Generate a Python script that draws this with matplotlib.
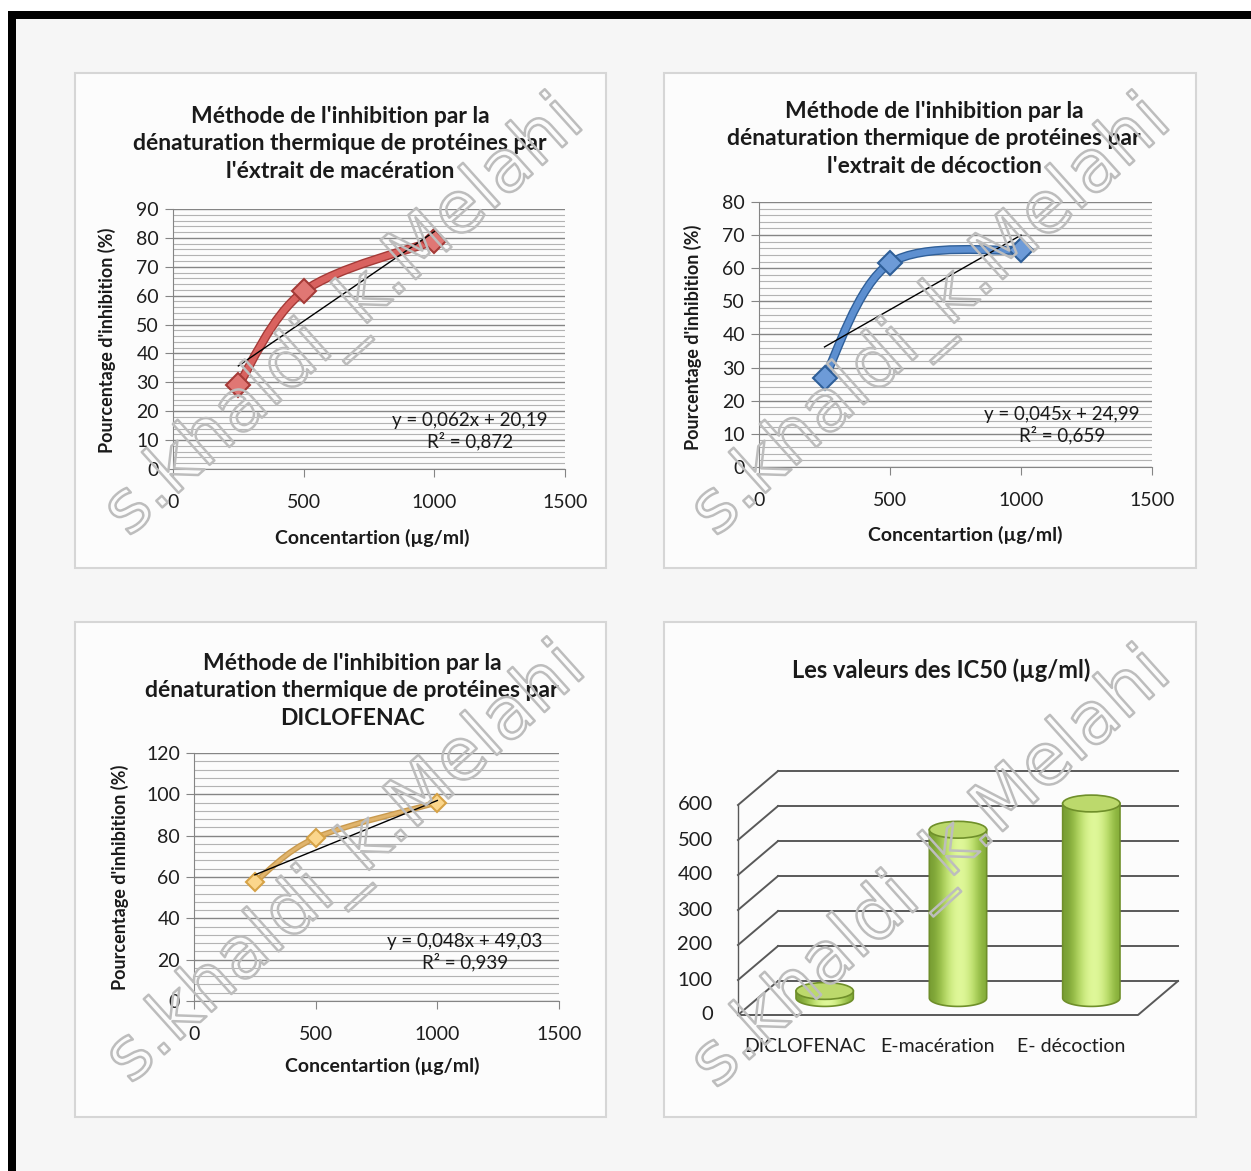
import numpy as np
import matplotlib
matplotlib.use("Agg")
import matplotlib.pyplot as plt
from matplotlib.path import Path
from matplotlib.patches import PathPatch, Rectangle, Polygon, Ellipse
import matplotlib.patheffects as pe

plt.rcParams['font.family'] = ['Lato', 'DejaVu Sans']

W, H = 1251, 1171

# --- data -------------------------------------------------------------
conc = [250, 500, 1000]
inhib_maceration = [29, 61.5, 79]
inhib_decoction = [27, 61.5, 65.5]
inhib_diclofenac = [57.5, 79, 96]

# linear trendlines as printed on each chart: slope, intercept, R²
fit_maceration = (0.062, 20.19, 0.872)
fit_decoction = (0.045, 24.99, 0.659)
fit_diclofenac = (0.048, 49.03, 0.939)

ic50_labels = ['DICLOFENAC', 'E-macération', 'E- décoction']
ic50_values = [20.2, 480.8, 555.8]

title_mac = "Méthode de l'inhibition par la\ndénaturation thermique de protéines par\nl'éxtrait de macération"
title_dec = "Méthode de l'inhibition par la\ndénaturation thermique de protéines par\nl'extrait de décoction"
title_dic = "Méthode de l'inhibition par la\ndénaturation thermique de protéines par\nDICLOFENAC"
title_ic50 = "Les valeurs des IC50 (µg/ml)"
xlab = "Concentartion (µg/ml)"
ylab = "Pourcentage d'inhibition (%)"
watermark = "s.khaldi_k.Melahi"


def fx(x):
    return x / W


def fy(y):
    return 1 - y / H


def rect(l, t, r, b):
    return [fx(l), fy(b), (r - l) / W, (b - t) / H]


def smooth_path(xs, ys):
    # Catmull-Rom style bezier through the points (like Excel smoothed lines)
    p = np.column_stack([xs, ys]).astype(float)
    ext = np.vstack([p[0], p, p[-1]])
    verts = [p[0]]
    codes = [Path.MOVETO]
    for i in range(len(p) - 1):
        p0, p1, p2, p3 = ext[i], ext[i + 1], ext[i + 2], ext[i + 3]
        c1 = p1 + (p2 - p0) / 6
        c2 = p2 - (p3 - p1) / 6
        verts += [c1, c2, p2]
        codes += [Path.CURVE4] * 3
    return Path(verts, codes)


fig = plt.figure(figsize=(W / 100, H / 100), dpi=100, facecolor='white')

# background and black frame
fig.patches.append(Rectangle((fx(16), 0), 1, fy(19), transform=fig.transFigure,
                             facecolor='#f6f6f6', edgecolor='none', zorder=-10))
fig.patches.append(Rectangle((fx(8), fy(19)), 1, 8 / H, transform=fig.transFigure,
                             facecolor='black', edgecolor='none', zorder=-9))
fig.patches.append(Rectangle((fx(8), 0), 8 / W, fy(11), transform=fig.transFigure,
                             facecolor='black', edgecolor='none', zorder=-9))

# panel boxes
for (l, t, r, b) in [(75, 73, 606, 568), (664, 73, 1196, 568),
                     (75, 622, 606, 1117), (664, 622, 1196, 1117)]:
    fig.patches.append(Rectangle((fx(l), fy(b)), (r - l) / W, (b - t) / H,
                                 transform=fig.transFigure, facecolor='#fcfcfc',
                                 edgecolor='#d6d6d6', lw=1.5, zorder=-8))


def line_panel(pos, ys, fit, ymax, ystep, colors, lw, ms, title, title_xy,
               eq_xy, xlab_xy, ylab_xy):
    ax = fig.add_axes(rect(*pos))
    ax.set_facecolor('none')
    ax.set_xlim(0, 1500)
    ax.set_ylim(0, ymax)
    ax.set_xticks([0, 500, 1000, 1500])
    ax.set_yticks(np.arange(0, ymax + 1, ystep))
    ax.set_yticks(np.arange(0, ymax + 0.1, ystep / 5), minor=True)
    ax.grid(axis='y', which='major', color='#858585', lw=1.0)
    ax.grid(axis='y', which='minor', color='#b3b3b3', lw=0.8)
    ax.set_axisbelow(True)
    for s in ['top', 'right']:
        ax.spines[s].set_visible(False)
    for s in ['left', 'bottom']:
        ax.spines[s].set_color('#858585')
    ax.tick_params(axis='both', which='major', direction='out', length=6,
                   color='#858585', labelsize=14, labelcolor='#1e1e1e')
    ax.tick_params(axis='y', which='minor', length=0)
    ax.tick_params(axis='x', pad=12)
    ax.tick_params(axis='y', pad=4)

    dark, mid, mfc, mec = colors
    path = smooth_path(conc, ys)
    ax.add_patch(PathPatch(path, facecolor='none', edgecolor=dark, lw=lw + 2,
                           capstyle='round', zorder=3))
    ax.add_patch(PathPatch(path, facecolor='none', edgecolor=mid, lw=lw,
                           capstyle='round', zorder=3))
    ax.plot(conc, ys, linestyle='none', marker='D', ms=ms, mfc=mfc, mec=mec,
            mew=1.5, zorder=4)

    a, b, r2 = fit
    xt = np.array([conc[0], conc[-1]])
    ax.plot(xt, a * xt + b, color='black', lw=1.0, zorder=5)

    fig.text(fx(title_xy[0]), fy(title_xy[1]), title, ha='center', va='top',
             fontsize=16.5, fontweight='bold', color='#1a1a1a', linespacing=1.38)
    eq = 'y = {:.3f}x + {:.2f}\nR² = {:.3f}'.format(a, b, r2).replace('.', ',')
    fig.text(fx(eq_xy[0]), fy(eq_xy[1]), eq, ha='center', va='top',
             fontsize=13.5, color='#1a1a1a', linespacing=1.15, multialignment='center')
    fig.text(fx(xlab_xy[0]), fy(xlab_xy[1]), xlab, ha='center', va='center',
             fontsize=14, fontweight='bold', color='#1a1a1a')
    fig.text(fx(ylab_xy[0]), fy(ylab_xy[1]), ylab, ha='center', va='center',
             rotation=90, fontsize=13, fontweight='bold', color='#1a1a1a')
    return ax


line_panel((173, 209, 565, 469), inhib_maceration, fit_maceration, 90, 10,
           ('#a53a37', '#d9625f', '#e07774', '#a53a37'), 4.5, 12,
           title_mac, (340, 106), (470, 412), (372, 538), (107, 340))
line_panel((759, 202, 1152, 467), inhib_decoction, fit_decoction, 80, 10,
           ('#2f5f99', '#5d8fd0', '#6d9bd8', '#2f5f99'), 4.5, 12,
           title_dec, (934, 101), (1062, 406), (965, 535), (693, 337))
line_panel((194, 753, 559, 1001), inhib_diclofenac, fit_diclofenac, 120, 20,
           ('#c99a4e', '#e0b46c', '#fbd68c', '#d6a246'), 2.2, 9,
           title_dic, (352, 653), (465, 933), (382, 1066), (120, 877))

# --- IC50 pseudo-3D cylinder chart ----------------------------------------
ax4 = fig.add_axes(rect(664, 740, 1196, 1060))
ax4.axis('off')
x0px, y0px, cpx, vpx = 738, 1015, 133.33, 0.35
xl = ((664 - x0px) / cpx, (1196 - x0px) / cpx)
yl = ((y0px - 1060) / vpx, (y0px - 740) / vpx)
ddx, ddy = 0.30, 97
grid_c = '#595959'
for v in range(0, 700, 100):
    ax4.plot([ddx, 3 + ddx], [v + ddy, v + ddy], color=grid_c, lw=1.4)
    ax4.plot([0, ddx], [v, v + ddy], color=grid_c, lw=1.4)
    ax4.text(-0.19, v, str(v), ha='right', va='center', fontsize=14.5, color='#1e1e1e')
ax4.plot([0, 0], [0, 600], color=grid_c, lw=1.0)
ax4.plot([0, 3, 3 + ddx], [0, 0, ddy], color=grid_c, lw=1.4)

gradient = np.array([[0.47, 0.62, 0.20], [0.62, 0.77, 0.30], [0.80, 0.92, 0.50],
                     [0.89, 0.98, 0.62], [0.86, 0.96, 0.58], [0.72, 0.86, 0.40],
                     [0.52, 0.68, 0.22]])[None, :, :]
half_w, ell_h = 0.215, 48
for i, (lab, val) in enumerate(zip(ic50_labels, ic50_values)):
    cx = i + 0.5 + 0.5 * ddx
    base = 0.5 * ddy
    top = base + val
    th = np.linspace(np.pi, 2 * np.pi, 60)
    pts = np.column_stack([cx + half_w * np.cos(th), base + ell_h / 2 * np.sin(th)])
    pts = np.vstack([pts, [[cx + half_w, top], [cx - half_w, top]]])
    body = Polygon(pts, closed=True, facecolor='none', edgecolor='#6f8f2a', lw=1.2, zorder=3)
    ax4.add_patch(body)
    im = ax4.imshow(gradient, extent=(cx - half_w, cx + half_w, base - ell_h, top),
                    aspect='auto', interpolation='bicubic', zorder=2)
    im.set_clip_path(body)
    ax4.add_patch(Ellipse((cx, top), 2 * half_w, ell_h, facecolor='#bcd96c',
                          edgecolor='#6f8f2a', lw=1.2, zorder=4))
    ax4.text(i + 0.5, -91, lab, ha='center', va='center', fontsize=14, color='#1e1e1e')
ax4.set_xlim(*xl)
ax4.set_ylim(*yl)

fig.text(fx(941), fy(670), title_ic50, ha='center', va='center',
         fontsize=17, fontweight='bold', color='#1a1a1a')

# hollow diagonal watermark over every panel
for (cx, cy) in [(345, 318), (932, 318), (347, 865), (932, 870)]:
    fig.text(fx(cx), fy(cy), watermark, ha='center', va='center', rotation=42,
             rotation_mode='anchor', fontsize=52, family='DejaVu Sans',
             color='none', zorder=20,
             path_effects=[pe.withStroke(linewidth=1.8, foreground='#bdbdbd')])

fig.savefig('out.png', dpi=100, facecolor=fig.get_facecolor())
